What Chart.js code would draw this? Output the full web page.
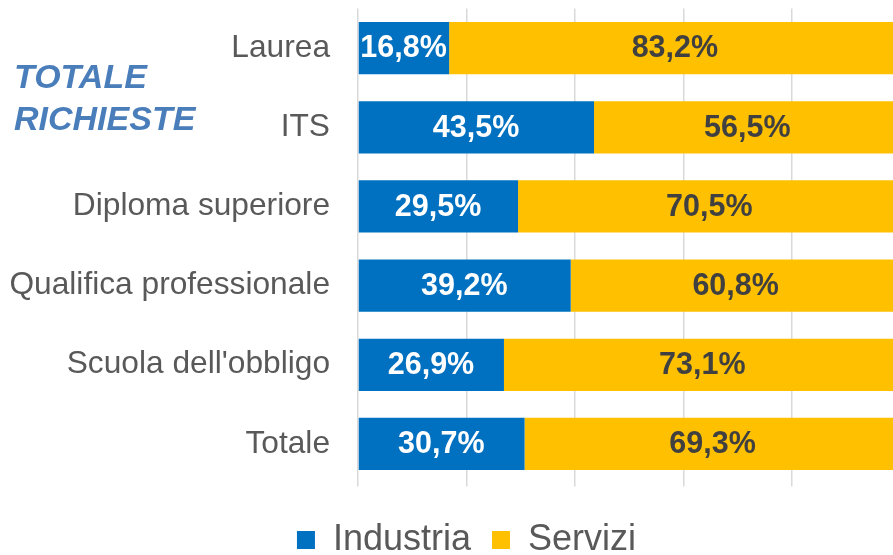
<!DOCTYPE html>
<html>
<head>
<meta charset="utf-8">
<script src="https://cdn.jsdelivr.net/npm/chart.js@4"></script>
<style>
  html, body { margin: 0; padding: 0; background: #fff; }
  #wrap { position: relative; width: 893px; height: 555px; }
  #title {
    position: absolute; left: 14px; top: 55px;
    font: italic bold 34px "Liberation Sans", Arial, sans-serif;
    line-height: 42px; color: #4A7EBB;
  }
</style>
</head>
<body>
<div id="wrap">
  <canvas id="chart" width="893" height="555"></canvas>
  <div id="title">TOTALE<br>RICHIESTE</div>
</div>
<script>
const categories = ['Laurea', 'ITS', 'Diploma superiore', 'Qualifica professionale', "Scuola dell'obbligo", 'Totale'];
const industria = [16.8, 43.5, 29.5, 39.2, 26.9, 30.7];
const servizi = [83.2, 56.5, 70.5, 60.8, 73.1, 69.3];
const seriesNames = ['Industria', 'Servizi'];
const gridSteps = [0, 20, 40, 60, 80];

const FONT = '"Liberation Sans", Arial, sans-serif';

// value labels centred on each segment (the right part of the chart is cut off)
const segmentLabels = {
    id: 'segmentLabels',
    afterDatasetsDraw(chart) {
        const ctx = chart.ctx;
        const xScale = chart.scales.x;
        const colors = ['#ffffff', '#404040'];
        ctx.save();
        ctx.font = 'bold 30.5px ' + FONT;
        ctx.textAlign = 'center';
        ctx.textBaseline = 'middle';
        chart.data.datasets.forEach((ds, di) => {
            const meta = chart.getDatasetMeta(di);
            meta.data.forEach((bar, i) => {
                let start = 0;
                for (let k = 0; k < di; k++) start += chart.data.datasets[k].data[i];
                const v = ds.data[i];
                const x = xScale.getPixelForValue(start + v / 2);
                ctx.fillStyle = colors[di];
                ctx.fillText(v.toFixed(1).replace('.', ',') + '%', x, bar.y + 1);
            });
        });
        ctx.restore();
    }
};

// legend sits a bit right of centre and low in the picture
const moveLegend = {
    id: 'moveLegend',
    beforeDraw(chart) {
        const lg = chart.legend;
        lg.left = 40;
        lg.right = 893;
        lg.top = 501;
    }
};

new Chart(document.getElementById('chart'), {
    type: 'bar',
    data: {
        labels: categories,
        datasets: [
            { label: seriesNames[0], data: industria, backgroundColor: '#0070C0' },
            { label: seriesNames[1], data: servizi, backgroundColor: '#FFC000' }
        ]
    },
    options: {
        indexAxis: 'y',
        responsive: false,
        animation: false,
        layout: { padding: { top: 8.5, left: 0, right: 0, bottom: 1.5 } },
        datasets: { bar: { categoryPercentage: 1, barPercentage: 0.66 } },
        scales: {
            x: {
                stacked: true,
                min: 0,
                max: 98.6,
                afterBuildTicks: scale => {
                    scale.ticks = gridSteps.map(v => ({ value: v }));
                },
                ticks: { display: false },
                grid: { color: '#d9d9d9', lineWidth: 1.5, drawTicks: true, tickLength: 3 },
                border: { display: false }
            },
            y: {
                stacked: true,
                afterFit: scale => {
                    scale.width = 358;
                    scale.paddingTop = 0;
                    scale.paddingBottom = 0;
                },
                grid: { display: false, drawTicks: false },
                border: { display: false },
                ticks: { color: '#595959', font: { family: FONT, size: 31.7 }, padding: 28 }
            }
        },
        plugins: {
            legend: {
                position: 'bottom',
                labels: {
                    boxWidth: 18,
                    boxHeight: 18,
                    padding: 21,
                    color: '#595959',
                    font: { family: FONT, size: 36, lineHeight: 1 }
                }
            },
            tooltip: { enabled: false }
        }
    },
    plugins: [segmentLabels, moveLegend]
});
</script>
</body>
</html>
